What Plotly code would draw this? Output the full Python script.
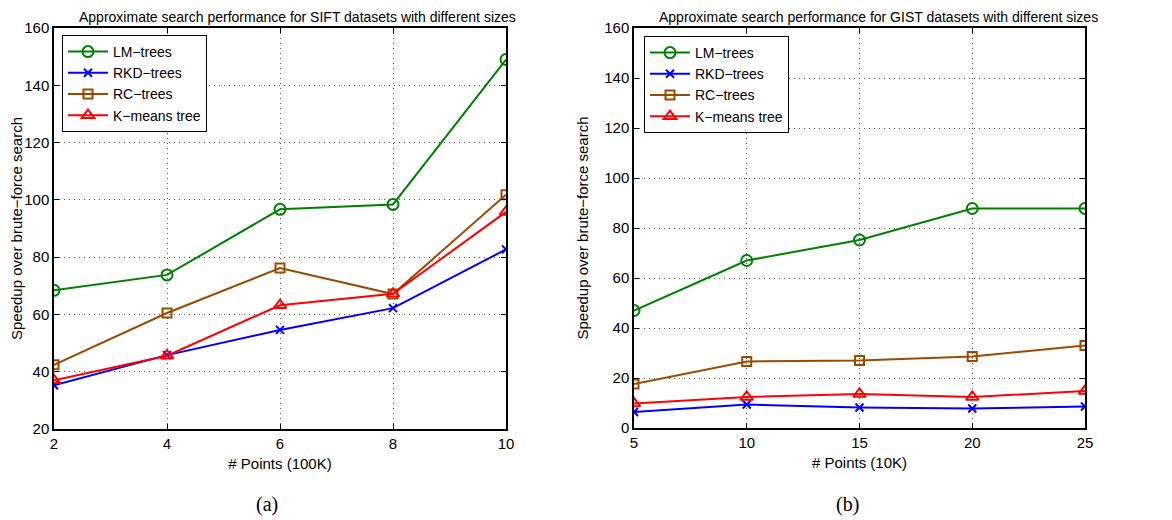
import plotly.graph_objects as GO

# data
sift_x = [2, 4, 6, 8, 10]
sift_lm = [68.4, 73.8, 96.7, 98.4, 149.0]
sift_rkd = [35.3, 45.8, 54.6, 62.2, 82.7]
sift_rc = [42.4, 60.5, 76.2, 67.1, 101.8]
sift_km = [37.0, 45.6, 63.2, 67.2, 95.8]

gist_x = [5, 10, 15, 20, 25]
gist_lm = [47.0, 67.0, 75.2, 87.8, 87.8]
gist_rkd = [6.4, 9.4, 8.2, 7.8, 8.6]
gist_rc = [17.6, 26.6, 27.0, 28.6, 33.0]
gist_km = [9.8, 12.4, 13.6, 12.4, 14.8]

names = ["LM\u2212trees", "RKD\u2212trees", "RC\u2212trees", "K\u2212means tree"]
colors = ["#008000", "#0000FF", "#994C00", "#FF0000"]
symbols = ["circle-open", "x-thin-open", "square-open", "triangle-up-open"]
sizes = [11, 8, 9, 11]

# page body has an 8px margin, so the figure is 8px smaller and positions shift
OFF = 8
W, H = 1172 - OFF, 520 - OFF
FONT = "Liberation Sans, Arial, sans-serif"


def px(x):
  return (x - OFF) / W


def py(y):
  return 1 - (y - OFF) / H


def main():
  fig = GO.Figure()

  panels = [
      (sift_x, [sift_lm, sift_rkd, sift_rc, sift_km], "x", "y", "legend"),
      (gist_x, [gist_lm, gist_rkd, gist_rc, gist_km], "x2", "y2", "legend2"),
  ]
  for xs, series, xa, ya, leg in panels:
    for i, ys in enumerate(series):
      fig.add_trace(GO.Scatter(
          x=xs, y=ys, name=names[i],
          mode="lines+markers",
          line=dict(color=colors[i], width=2),
          marker=dict(symbol=symbols[i], size=sizes[i], color=colors[i],
                      line=dict(width=2, color=colors[i])),
          xaxis=xa, yaxis=ya, legend=leg
      ))

  # plot areas in reference pixels (left, right, top, bottom)
  L = (54, 506, 28, 429)
  R = (634, 1085, 28, 428)

  def dom(p):
    return [px(p[0]), px(p[1])], [py(p[3]), py(p[2])]

  axis_common = dict(
      showline=True, linecolor="black", linewidth=1.5, mirror="ticks",
      ticks="inside", ticklen=5, tickcolor="black", automargin=False,
      showgrid=True, gridcolor="#555", griddash="1px,4px", gridwidth=1,
      zeroline=False, tickfont=dict(size=15, color="black", family=FONT),
      title_font=dict(size=15, color="black", family=FONT),
  )

  lx, ly = dom(L)
  rx, ry = dom(R)
  fig.update_layout(
      xaxis=dict(domain=lx, anchor="y", range=[2, 10], tickvals=sift_x,
                 title=dict(text="# Points (100K)", standoff=8), **axis_common),
      yaxis=dict(domain=ly, anchor="x", range=[20, 160], dtick=20,
                 title=dict(text="Speedup over brute\u2212force search", standoff=12),
                 **axis_common),
      xaxis2=dict(domain=rx, anchor="y2", range=[5, 25], tickvals=gist_x,
                  title=dict(text="# Points (10K)", standoff=8), **axis_common),
      yaxis2=dict(domain=ry, anchor="x2", range=[0, 160], dtick=20,
                  title=dict(text="Speedup over brute\u2212force search", standoff=12),
                  **axis_common),
  )

  leg_common = dict(
      bgcolor="white", bordercolor="black", borderwidth=1,
      font=dict(size=14, color="black", family=FONT),
      xanchor="left", yanchor="top", tracegroupgap=0, itemwidth=40,
  )
  fig.update_layout(
      legend=dict(x=px(62), y=py(35), **leg_common),
      legend2=dict(x=px(644), y=py(36), **leg_common),
  )

  title_font = dict(size=14, color="black", family=FONT)
  cap_font = dict(size=20, color="black", family="Liberation Serif, DejaVu Serif, serif")
  annotations = [
      dict(text="Approximate search performance for SIFT datasets with different sizes",
           x=px(297), y=1, xanchor="center", yanchor="top", borderpad=0,
           xref="paper", yref="paper", showarrow=False, font=title_font),
      dict(text="Approximate search performance for GIST datasets with different sizes",
           x=px(878), y=1, xanchor="center", yanchor="top", borderpad=0,
           xref="paper", yref="paper", showarrow=False, font=title_font),
      dict(text="(a)", x=px(267), y=py(504), xanchor="center", yanchor="middle",
           xref="paper", yref="paper", showarrow=False, font=cap_font),
      dict(text="(b)", x=px(847), y=py(504), xanchor="center", yanchor="middle",
           xref="paper", yref="paper", showarrow=False, font=cap_font),
  ]

  fig.update_layout(
      annotations=annotations,
      width=W, height=H,
      margin=dict(l=0, r=0, t=0, b=0, autoexpand=False),
      plot_bgcolor="white", paper_bgcolor="white",
      showlegend=True,
  )

  fig.write_html("out.html")


if __name__ == "__main__":
  main()
